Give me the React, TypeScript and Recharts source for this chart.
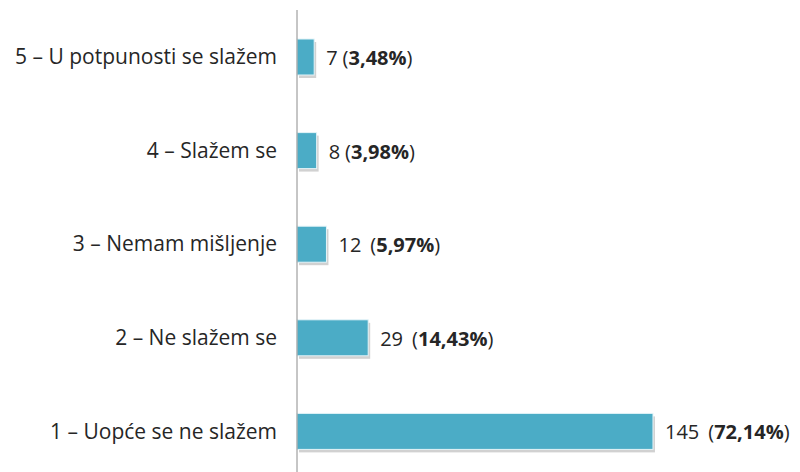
import { BarChart, Bar, XAxis, YAxis, LabelList } from 'recharts'

// top-to-bottom order as drawn
const categories = [
  '5 – U potpunosti se slažem',
  '4 – Slažem se',
  '3 – Nemam mišljenje',
  '2 – Ne slažem se',
  '1 – Uopće se ne slažem',
]
const counts = [7, 8, 12, 29, 145]
const percents = ['3,48%', '3,98%', '5,97%', '14,43%', '72,14%']

const data = categories.map((name, i) => ({ name, count: counts[i], pct: percents[i] }))

const FONT = '"Open Sans", sans-serif'
const BAR_COLOR = '#4bacc6'

const ShadowBar = (props: any) => {
  const { x, y, width, height } = props
  if (!width || width <= 0) return null
  return (
    <g>
      <rect x={x + 2} y={y + 3} width={width} height={height} fill="#000" opacity={0.18} />
      <rect x={x} y={y} width={width} height={height} fill={BAR_COLOR} stroke="#e4f4f8" strokeWidth={1} />
    </g>
  )
}

const ValueLabel = (props: any) => {
  const { x, y, width, height, index } = props
  const d = data[index]
  return (
    <text
      x={x + width + 12}
      y={y + height / 2}
      dominantBaseline="central"
      fontFamily={FONT}
      fontSize={20}
      fill="#262626"
    >
      <tspan>{d.count}</tspan>
      <tspan dx={d.count > 9 ? 9 : 5}>(</tspan>
      <tspan fontWeight="bold">{d.pct}</tspan>
      <tspan>)</tspan>
    </text>
  )
}

export default function App() {
  return (
    <div style={{ position: 'fixed', left: 0, top: 0, width: 800, height: 472, overflow: 'hidden', background: '#fff' }}>
      <BarChart
        width={800}
        height={480}
        data={data}
        layout="vertical"
        margin={{ top: 10, right: 12, left: 0, bottom: 2 }}
        barSize={36}
      >
        <XAxis type="number" domain={[0, 200]} hide />
        <YAxis
          type="category"
          dataKey="name"
          width={297}
          tickLine={false}
          tickSize={0}
          tickMargin={20}
          axisLine={{ stroke: '#8c8c8c', strokeWidth: 1 }}
          tick={{ fontFamily: FONT, fontSize: 21, fill: '#262626' }}
        />
        <Bar dataKey="count" shape={ShadowBar} isAnimationActive={false}>
          <LabelList dataKey="count" content={ValueLabel} />
        </Bar>
      </BarChart>
    </div>
  )
}
